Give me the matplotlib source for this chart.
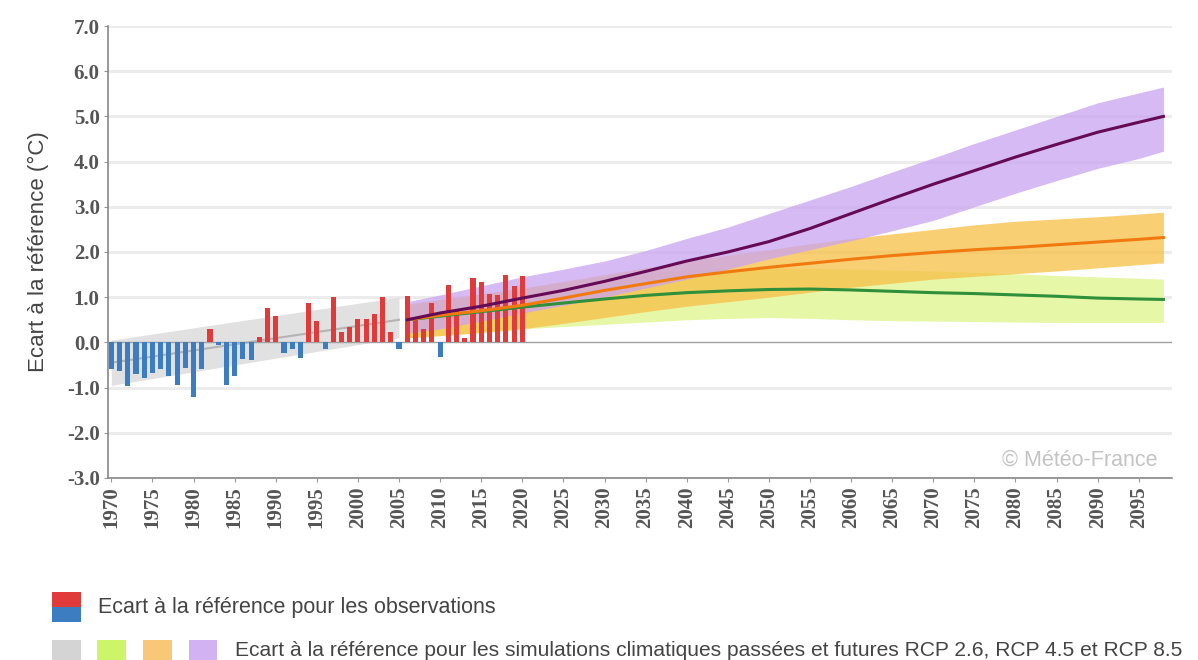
import numpy as np
import matplotlib
matplotlib.use("Agg")
import matplotlib.pyplot as plt
from matplotlib.patches import Rectangle

# observed anomalies (°C), one bar per year
obs_years = list(range(1970, 2021))
obs_values = [-0.60, -0.63, -0.97, -0.70, -0.78, -0.67, -0.58, -0.74, -0.95, -0.56,
              -1.20, -0.60, 0.30, -0.05, -0.95, -0.75, -0.37, -0.40, 0.13, 0.75,
              0.58, -0.23, -0.15, -0.35, 0.88, 0.47, -0.15, 1.00, 0.22, 0.35,
              0.52, 0.52, 0.62, 1.00, 0.22, -0.14, 1.03, 0.55, 0.30, 0.88,
              -0.33, 1.26, 0.73, 0.10, 1.43, 1.33, 1.06, 1.05, 1.50, 1.24,
              1.46]

# historical simulations (grey)
hist_years = [1970, 2005]
hist_low = [-0.95, 0.10]
hist_mid = [-0.45, 0.50]
hist_high = [0.05, 1.00]

# scenario simulations
scen_years = [2006, 2010, 2015, 2020, 2025, 2030, 2035, 2040, 2045, 2050,
              2055, 2060, 2065, 2070, 2075, 2080, 2085, 2090, 2095, 2098]
rcp26_low = [0.10, 0.15, 0.22, 0.30, 0.35, 0.40, 0.45, 0.50, 0.53, 0.55,
             0.53, 0.50, 0.48, 0.47, 0.46, 0.45, 0.44, 0.44, 0.44, 0.44]
rcp26_mid = [0.50, 0.58, 0.68, 0.78, 0.87, 0.96, 1.04, 1.10, 1.14, 1.17,
             1.18, 1.16, 1.13, 1.10, 1.08, 1.05, 1.02, 0.98, 0.96, 0.95]
rcp26_high = [0.80, 0.95, 1.07, 1.20, 1.33, 1.45, 1.53, 1.60, 1.63, 1.65,
              1.64, 1.62, 1.60, 1.58, 1.55, 1.52, 1.48, 1.45, 1.42, 1.40]
rcp45_low = [0.10, 0.15, 0.22, 0.30, 0.42, 0.55, 0.68, 0.80, 0.90, 1.00,
             1.11, 1.22, 1.31, 1.40, 1.46, 1.52, 1.58, 1.65, 1.72, 1.76]
rcp45_mid = [0.50, 0.60, 0.70, 0.82, 0.98, 1.15, 1.30, 1.45, 1.56, 1.66,
             1.75, 1.84, 1.92, 1.99, 2.05, 2.10, 2.16, 2.22, 2.28, 2.32]
rcp45_high = [0.85, 0.95, 1.07, 1.20, 1.35, 1.50, 1.65, 1.80, 1.93, 2.05,
              2.18, 2.30, 2.40, 2.50, 2.60, 2.68, 2.73, 2.78, 2.84, 2.88]
rcp85_low = [0.20, 0.30, 0.47, 0.65, 0.82, 1.00, 1.20, 1.40, 1.62, 1.85,
             2.05, 2.25, 2.47, 2.70, 3.00, 3.30, 3.58, 3.85, 4.07, 4.23]
rcp85_mid = [0.50, 0.65, 0.80, 0.98, 1.15, 1.35, 1.57, 1.80, 2.00, 2.23,
             2.52, 2.85, 3.18, 3.50, 3.80, 4.10, 4.38, 4.65, 4.87, 5.00]
rcp85_high = [0.90, 1.05, 1.25, 1.45, 1.62, 1.80, 2.03, 2.30, 2.55, 2.85,
              3.15, 3.45, 3.77, 4.08, 4.40, 4.70, 5.00, 5.30, 5.52, 5.65]

yticks = np.arange(-3, 8, 1)
xticks = list(range(1970, 2100, 5))

serif = ["Liberation Serif", "DejaVu Serif"]
sans = ["Liberation Sans", "DejaVu Sans"]

fig = plt.figure(figsize=(11.98, 6.6), dpi=100)
ax = fig.add_axes([0.0902, 0.2758, 0.8878, 0.6848])

for y in yticks:
    if y != 0:
        ax.axhline(y, color="#ececec", lw=2.2, zorder=0)

# bands
ax.fill_between(hist_years, hist_low, hist_high, color="#dadada", alpha=0.8, lw=0, zorder=1)
ax.plot(hist_years, hist_mid, color="#b4b4b4", lw=1.5, zorder=2)
ax.fill_between(scen_years, rcp26_low, rcp26_high, color="#e6f7a8", lw=0, zorder=1)
ax.fill_between(scen_years, rcp45_low, rcp45_high, color="#f7bf45", alpha=0.75, lw=0, zorder=1)
ax.fill_between(scen_years, rcp85_low, rcp85_high, color="#c9a3f0", alpha=0.75, lw=0, zorder=1)

ax.axhline(0, color="#a0a0a0", lw=1, zorder=2)

colors = ["#e03a3a" if v >= 0 else "#3b7dc0" for v in obs_values]
ax.bar(obs_years, obs_values, width=0.62, color=colors, zorder=3)

ax.plot(scen_years, rcp26_mid, color="#2f8f3a", lw=2.2, zorder=4)
ax.plot(scen_years, rcp45_mid, color="#f07a10", lw=2.2, zorder=4)
ax.plot(scen_years, rcp85_mid, color="#650a55", lw=2.2, zorder=4)

ax.set_xlim(1969.6, 2099)
ax.set_ylim(-3, 7)
ax.set_yticks(yticks)
ax.set_yticklabels([f"{v:.1f}" for v in yticks], fontfamily=serif,
                   fontweight="bold", fontsize=15, color="#555555")
ax.set_xticks(xticks)
ax.set_xticklabels([str(x) for x in xticks], rotation=90, fontfamily=serif,
                   fontweight="bold", fontsize=15, color="#555555")
ax.tick_params(axis="both", length=3, color="#999999", pad=3)

for s in ["top", "right"]:
    ax.spines[s].set_visible(False)
ax.spines["left"].set_color("#888888")
ax.spines["bottom"].set_color("#888888")
ax.spines["left"].set_linewidth(1.2)
ax.spines["bottom"].set_linewidth(1.2)

ax.set_ylabel("Ecart à la référence (°C)", fontfamily=sans, fontsize=16,
              color="#444444", labelpad=13)

ax.text(0.987, 0.04, "© Météo-France", transform=ax.transAxes, ha="right", va="center",
        fontfamily=sans, fontsize=15.5, color="#c4c4c4")

# legend below the plot
def square(x0, y0, w, h, c):
    fig.patches.append(Rectangle((x0 / 1198, 1 - (y0 + h) / 660), w / 1198, h / 660,
                                 transform=fig.transFigure, color=c, lw=0))

square(52, 592, 29, 15, "#e03a3a")
square(52, 607, 29, 15, "#3b7dc0")
fig.text(98 / 1198, 1 - 608 / 660, "Ecart à la référence pour les observations",
         fontfamily=sans, fontsize=15.5, color="#444444", va="center")

legend_sq = ["#d4d4d4", "#ccf56a", "#f8c878", "#d2b2f2"]
for i, c in enumerate(legend_sq):
    square(52 + i * 45.5, 640, 29, 25, c)
fig.text(235 / 1198, 1 - 651 / 660,
         "Ecart à la référence pour les simulations climatiques passées et futures RCP 2.6, RCP 4.5 et RCP 8.5",
         fontfamily=sans, fontsize=15.1, color="#444444", va="center")

fig.savefig("out.png", dpi=100)
